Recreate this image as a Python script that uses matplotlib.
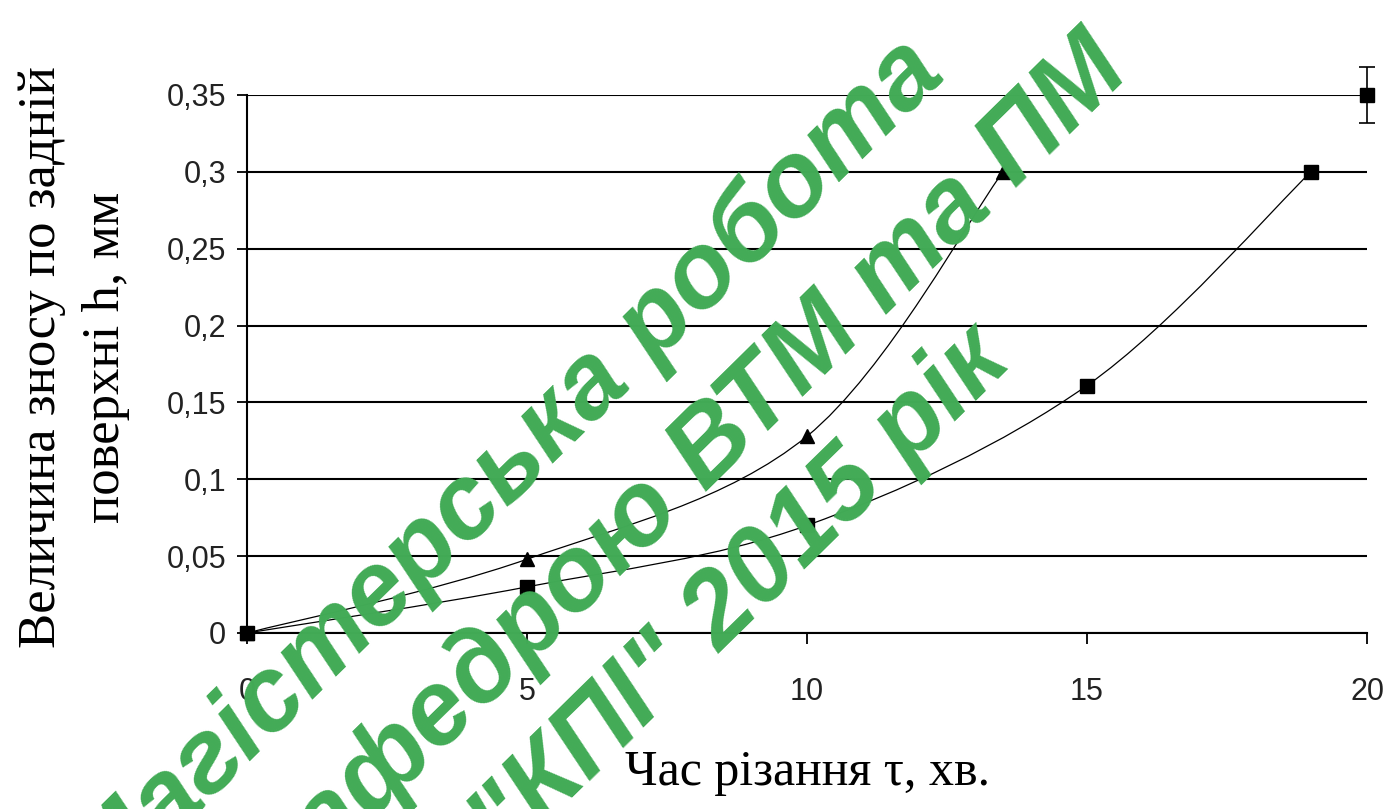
import numpy as np
import matplotlib
matplotlib.use("Agg")
from matplotlib import pyplot as plt
from matplotlib.path import Path
from matplotlib.patches import PathPatch
from matplotlib.ticker import FuncFormatter, MultipleLocator

# wear vs cutting time, two tool variants
time_a = [0, 5, 10, 13.5]
wear_a = [0, 0.048, 0.128, 0.3]

time_b = [0, 5, 10, 15, 19]
wear_b = [0, 0.03, 0.07, 0.161, 0.3]

time_c = [20]
wear_c = [0.35]
err_c = [0.0185]

x_ticks = [0, 5, 10, 15, 20]

W, H = 1396, 809


def smooth_path(xs, ys):
    # cubic bezier through the points (catmull-rom style tangents)
    pts = np.column_stack([xs, ys]).astype(float)
    n = len(pts)
    verts = [pts[0]]
    codes = [Path.MOVETO]
    for i in range(n - 1):
        p0 = pts[i - 1] if i > 0 else pts[i]
        p1 = pts[i]
        p2 = pts[i + 1]
        p3 = pts[i + 2] if i + 2 < n else pts[i + 1]
        c1 = p1 + (p2 - p0) / 6.0
        c2 = p2 - (p3 - p1) / 6.0
        verts += [c1, c2, p2]
        codes += [Path.CURVE4] * 3
    return Path(verts, codes)


fig = plt.figure(figsize=(W / 100, H / 100), dpi=100)
ax = fig.add_axes([247 / W, 1 - 633 / H, 1120 / W, 538 / H])

for xs, ys, mk, ms in [(time_a, wear_a, '^', 10), (time_b, wear_b, 's', 9.5)]:
    ax.add_patch(PathPatch(smooth_path(xs, ys), fill=False, edgecolor='black', lw=0.9, zorder=3))
    ax.plot(xs, ys, linestyle='none', marker=mk, color='black', markersize=ms, zorder=4, clip_on=False)

ax.errorbar(time_c, wear_c, yerr=err_c, fmt='s', color='black', markersize=10.5,
            elinewidth=1.2, capsize=6, capthick=1.2, zorder=4, clip_on=False)

ax.set_xlim(0, 20)
ax.set_ylim(0, 0.35)
ax.set_xticks(x_ticks)
ax.yaxis.set_major_locator(MultipleLocator(0.05))
ax.yaxis.set_major_formatter(FuncFormatter(lambda v, p: ('%g' % round(v, 2)).replace('.', ',')))

ax.grid(axis='y', color='black', lw=1.5)
ax.set_axisbelow(True)
for s in ['top', 'right']:
    ax.spines[s].set_visible(False)
ax.spines['left'].set_linewidth(1.5)
ax.spines['bottom'].set_linewidth(1.5)
ax.tick_params(axis='y', direction='out', length=7, width=1.3, pad=8, labelsize=22, labelcolor='#222222')
ax.tick_params(axis='x', direction='out', length=8, width=1.3, pad=24, labelsize=22, labelcolor='#222222')
for lb in ax.get_xticklabels() + ax.get_yticklabels():
    lb.set_family('Liberation Sans')

fig.text(74 / W, 1 - 357 / H, "Величина зносу по задній\nповерхні h, мм", rotation=90,
         ha='center', va='center', family='Liberation Serif', fontsize=38, linespacing=1.45)
fig.text(808 / W, 1 - 773 / H, "Час різання τ, хв.", ha='center', va='center',
         family='Liberation Serif', fontsize=36)

# watermark, each line anchored at the right end of its baseline
green = '#42ab56'
wm_lines = [("Магістерська робота", 947, 76),
            ("кафедрою ВТМ та ПМ", 1132, 74),
            ("\"КПІ\" 2015 рік", 1013, 364)]
for txt, px, py in wm_lines:
    fig.text(px / W, 1 - py / H, txt, rotation=44.5, rotation_mode='anchor',
             ha='right', va='baseline',
             family='Liberation Sans', fontweight='bold', fontstyle='italic',
             fontsize=76, color=green, zorder=10)

fig.savefig("out.png", dpi=100)
